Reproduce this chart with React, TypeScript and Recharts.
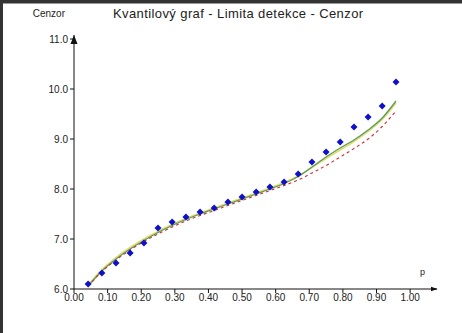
import { ComposedChart, Line, ReferenceDot, Scatter, XAxis, YAxis } from "recharts";

// pořadí kvantilů p
const pValues = [0.042, 0.083, 0.125, 0.167, 0.208, 0.25, 0.292, 0.333, 0.375, 0.417, 0.458, 0.5, 0.542, 0.583, 0.625, 0.667, 0.708, 0.75, 0.792, 0.833, 0.875, 0.917, 0.958];
// naměřené hodnoty (body)
const cenzor = [6.1, 6.32, 6.52, 6.72, 6.92, 7.22, 7.34, 7.44, 7.54, 7.62, 7.74, 7.84, 7.94, 8.04, 8.14, 8.3, 8.54, 8.74, 8.94, 9.24, 9.44, 9.66, 10.14];
// teoretické křivky
const greenFit = [6.06, 6.36, 6.6, 6.8, 6.97, 7.13, 7.27, 7.39, 7.5, 7.6, 7.7, 7.8, 7.9, 8.0, 8.11, 8.25, 8.44, 8.64, 8.82, 8.98, 9.18, 9.42, 9.76];
const yellowFit = [6.08, 6.39, 6.63, 6.83, 7.0, 7.15, 7.29, 7.41, 7.52, 7.62, 7.72, 7.82, 7.92, 8.02, 8.13, 8.26, 8.43, 8.61, 8.78, 8.95, 9.15, 9.39, 9.72];
const redFit = [6.05, 6.35, 6.58, 6.78, 6.95, 7.1, 7.24, 7.36, 7.47, 7.57, 7.67, 7.77, 7.87, 7.97, 8.07, 8.18, 8.32, 8.47, 8.64, 8.81, 9.0, 9.25, 9.56];

const xTicks = [0, 0.1, 0.2, 0.3, 0.4, 0.5, 0.6, 0.7, 0.8, 0.9, 1.0];
const yTicks = [6, 7, 8, 9, 10, 11];

const data = pValues.map((p, i) => ({
  p,
  cenzor: cenzor[i],
  green: greenFit[i],
  yellow: yellowFit[i],
  red: redFit[i],
}));

const font = "'Liberation Sans', Arial, sans-serif";
const tickStyle = { fill: "#222", fontSize: 10, fontFamily: font };

const Diamond = (props: any) => {
  const { cx, cy } = props;
  if (cx == null || cy == null) return null;
  return <path d={`M${cx},${cy - 3.5}L${cx + 3.5},${cy}L${cx},${cy + 3.5}L${cx - 3.5},${cy}Z`} fill="#1010c8" />;
};

const UpArrow = (props: any) => {
  const { cx, cy } = props;
  if (cx == null || cy == null) return null;
  return <path d={`M${cx},${cy}L${cx + 3.5},${cy + 9}L${cx - 3.5},${cy + 9}Z`} fill="#111" />;
};

export default function App() {
  return (
    <div style={{ position: "absolute", left: 0, top: 0, width: 462, height: 333, background: "#fff", overflow: "hidden" }}>
      <div style={{ position: "absolute", left: 0, top: 0, width: 462, height: 3, background: "#333" }} />
      <div style={{ position: "absolute", left: 0, top: 3, width: 462, height: 1, background: "#999" }} />
      <div style={{ position: "absolute", left: 0, top: 0, width: 3, height: 333, background: "#333" }} />
      <div
        style={{
          position: "absolute",
          left: 113,
          top: 6,
          fontFamily: font,
          fontSize: 13,
          color: "#222",
          whiteSpace: "nowrap",
          letterSpacing: 0.4,
        }}
      >
        Kvantilový graf - Limita detekce - Cenzor
      </div>
      <ComposedChart width={462} height={333} data={data} margin={{ top: 35, right: 25, bottom: 14, left: 0 }}>
        <defs>
          <marker id="arrow" viewBox="0 0 10 10" refX="9" refY="5" markerWidth="7" markerHeight="7" orient="auto" markerUnits="userSpaceOnUse">
            <path d="M0,1.5L10,5L0,8.5Z" fill="#111" />
          </marker>
        </defs>
        <XAxis
          dataKey="p"
          type="number"
          domain={[0, 1.08]}
          ticks={xTicks}
          tickFormatter={(v: number) => v.toFixed(2)}
          tick={tickStyle}
          tickSize={4}
          tickMargin={1}
          height={30}
          axisLine={{ stroke: "#111", strokeWidth: 1, markerEnd: "url(#arrow)" }}
          tickLine={{ stroke: "#111" }}
          label={{
            content: ({ viewBox }: any) => (
              <text x={viewBox.x + viewBox.width - 17} y={viewBox.y - 14} fontSize={9} fontFamily={font} fill="#222">
                p
              </text>
            ),
          }}
        />
        <YAxis
          type="number"
          domain={[6, 11.08]}
          ticks={yTicks}
          tickFormatter={(v: number) => v.toFixed(1)}
          tick={tickStyle}
          tickSize={4}
          tickMargin={2}
          width={74}
          axisLine={{ stroke: "#111", strokeWidth: 1 }}
          tickLine={{ stroke: "#111" }}
          label={{
            content: ({ viewBox }: any) => (
              <text x={viewBox.x + viewBox.width - 9} y={viewBox.y - 18} textAnchor="end" fontSize={10} fontFamily={font} fill="#222">
                Cenzor
              </text>
            ),
          }}
        />
        <ReferenceDot x={0} y={11.08} ifOverflow="visible" shape={<UpArrow />} />
        <Line dataKey="yellow" type="monotone" stroke="#e2dc6a" strokeWidth={1.5} dot={false} isAnimationActive={false} />
        <Line dataKey="green" type="monotone" stroke="#5a9a5a" strokeWidth={1.3} dot={false} isAnimationActive={false} />
        <Line dataKey="red" type="monotone" stroke="#c83232" strokeWidth={1.1} strokeDasharray="3 3" dot={false} isAnimationActive={false} />
        <Scatter dataKey="cenzor" shape={<Diamond />} isAnimationActive={false} />
      </ComposedChart>
    </div>
  );
}
